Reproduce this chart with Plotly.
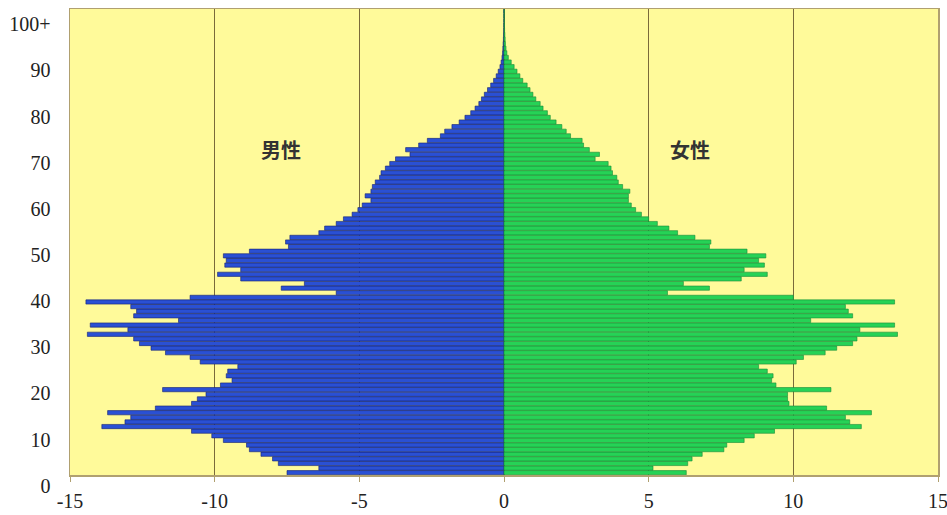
import plotly.graph_objects as go

ages = list(range(0, 101))

male = [
    7.5, 6.4, 7.8, 8.0, 8.4, 8.8, 8.9, 9.7, 10.1, 10.8,
    13.9, 13.1, 12.9, 13.7, 12.05, 10.8, 10.6, 10.3, 11.8, 9.8,
    9.4, 9.6, 9.55, 9.2, 10.5, 10.85, 11.7, 12.2, 12.6, 12.8,
    14.4, 13.0, 14.3, 11.25, 12.8, 12.7, 12.9, 14.45, 10.85, 5.8,
    7.7, 6.9, 9.1, 9.9, 9.1, 9.65, 9.6, 9.7, 8.8, 7.45,
    7.55, 7.4, 6.4, 6.2, 5.8, 5.55, 5.25, 5.05, 4.9, 4.6,
    4.8, 4.6, 4.55, 4.45, 4.3, 4.25, 4.1, 3.95, 3.75, 3.25,
    3.4, 2.95, 2.65, 2.2, 2.05, 1.8, 1.55, 1.35, 1.15, 1.0,
    0.87, 0.78, 0.68, 0.57, 0.46, 0.36, 0.27, 0.2, 0.14, 0.1,
    0.07, 0.05, 0.04, 0.03, 0.02, 0.015, 0.01, 0.008, 0.006, 0.005,
    0.008,
]

female = [
    6.3, 5.15, 6.35, 6.5, 6.85, 7.6, 7.7, 8.3, 8.65, 9.35,
    12.35, 11.95, 11.8, 12.7, 11.15, 9.85, 9.8, 9.8, 11.3, 9.4,
    9.25, 9.3, 9.1, 8.8, 10.1, 10.35, 11.1, 11.5, 12.05, 12.2,
    13.6, 12.3, 13.5, 10.6, 12.05, 11.9, 11.8, 13.5, 10.0, 5.65,
    7.1, 6.2, 8.2, 9.1, 8.3, 9.0, 8.8, 9.05, 8.4, 7.1,
    7.15, 6.6, 6.0, 5.7, 5.3, 5.0, 4.75, 4.55, 4.4, 4.3,
    4.3, 4.35, 4.1, 3.95, 3.9, 3.75, 3.7, 3.6, 3.15, 3.3,
    2.95, 2.75, 2.7, 2.3, 2.15, 2.0, 1.8, 1.6, 1.5, 1.35,
    1.25, 1.1, 1.0, 0.9, 0.8, 0.65, 0.55, 0.45, 0.35, 0.25,
    0.15, 0.1, 0.07, 0.05, 0.04, 0.03, 0.02, 0.015, 0.01, 0.008,
    0.01,
]

x_ticks = [-15, -10, -5, 0, 5, 10, 15]
x_tick_labels = ["-15", "-10", "-5", "0", "5", "10", "15"]
y_ticks = [0, 10, 20, 30, 40, 50, 60, 70, 80, 90, 100]
y_tick_labels = ["0", "10", "20", "30", "40", "50", "60", "70", "80", "90", "100+"]

label_male = "男性"
label_female = "女性"

fig = go.Figure()
fig.add_trace(go.Bar(
    y=ages, x=[-v for v in male], orientation="h", name=label_male,
    marker=dict(color="#2a50d4", line=dict(color="#14206e", width=0.6)),
    hoverinfo="skip",
))
fig.add_trace(go.Bar(
    y=ages, x=female, orientation="h", name=label_female,
    marker=dict(color="#26d256", line=dict(color="#178a36", width=0.6)),
    hoverinfo="skip",
))

serif = "Liberation Serif, Times New Roman, serif"

fig.update_layout(
    width=947, height=515,
    margin=dict(l=70, r=9, t=9, b=40, autoexpand=False),
    barmode="overlay",
    bargap=0.08,
    showlegend=False,
    paper_bgcolor="white",
    plot_bgcolor="#fffa9a",
    xaxis=dict(
        range=[-15, 15], tickvals=x_ticks, ticktext=x_tick_labels,
        showgrid=True, gridcolor="#7a6a3a", gridwidth=1,
        zeroline=False, showline=True, linecolor="#b0a070", linewidth=1.5,
        mirror=True, ticks="outside", ticklen=5, tickcolor="#b0a070",
        tickfont=dict(family=serif, size=20, color="#222"),
        ticklabelstandoff=2, automargin=False, ticklabeloverflow="allow",
    ),
    yaxis=dict(
        range=[-0.5, 100.5], tickvals=y_ticks, ticktext=y_tick_labels,
        showgrid=False, zeroline=False, showline=True, linecolor="#b0a070",
        linewidth=1.5, mirror=True, ticks="",
        tickfont=dict(family=serif, size=20, color="#222"),
        ticklabelshift=13, ticklabelstandoff=14, automargin=False,
        ticklabeloverflow="allow",
    ),
    annotations=[
        dict(x=-7.7, y=70, xref="x", yref="y", text=label_male, showarrow=False,
             font=dict(family="Noto Sans CJK JP", size=20, color="#333", weight="bold")),
        dict(x=6.43, y=70, xref="x", yref="y", text=label_female, showarrow=False,
             font=dict(family="Noto Sans CJK JP", size=20, color="#333", weight="bold")),
    ],
)

fig.write_html(
    "out.html",
    config={"displayModeBar": False, "staticPlot": True},
    post_script="document.body.style.margin='0';document.body.style.overflow='hidden';",
)
